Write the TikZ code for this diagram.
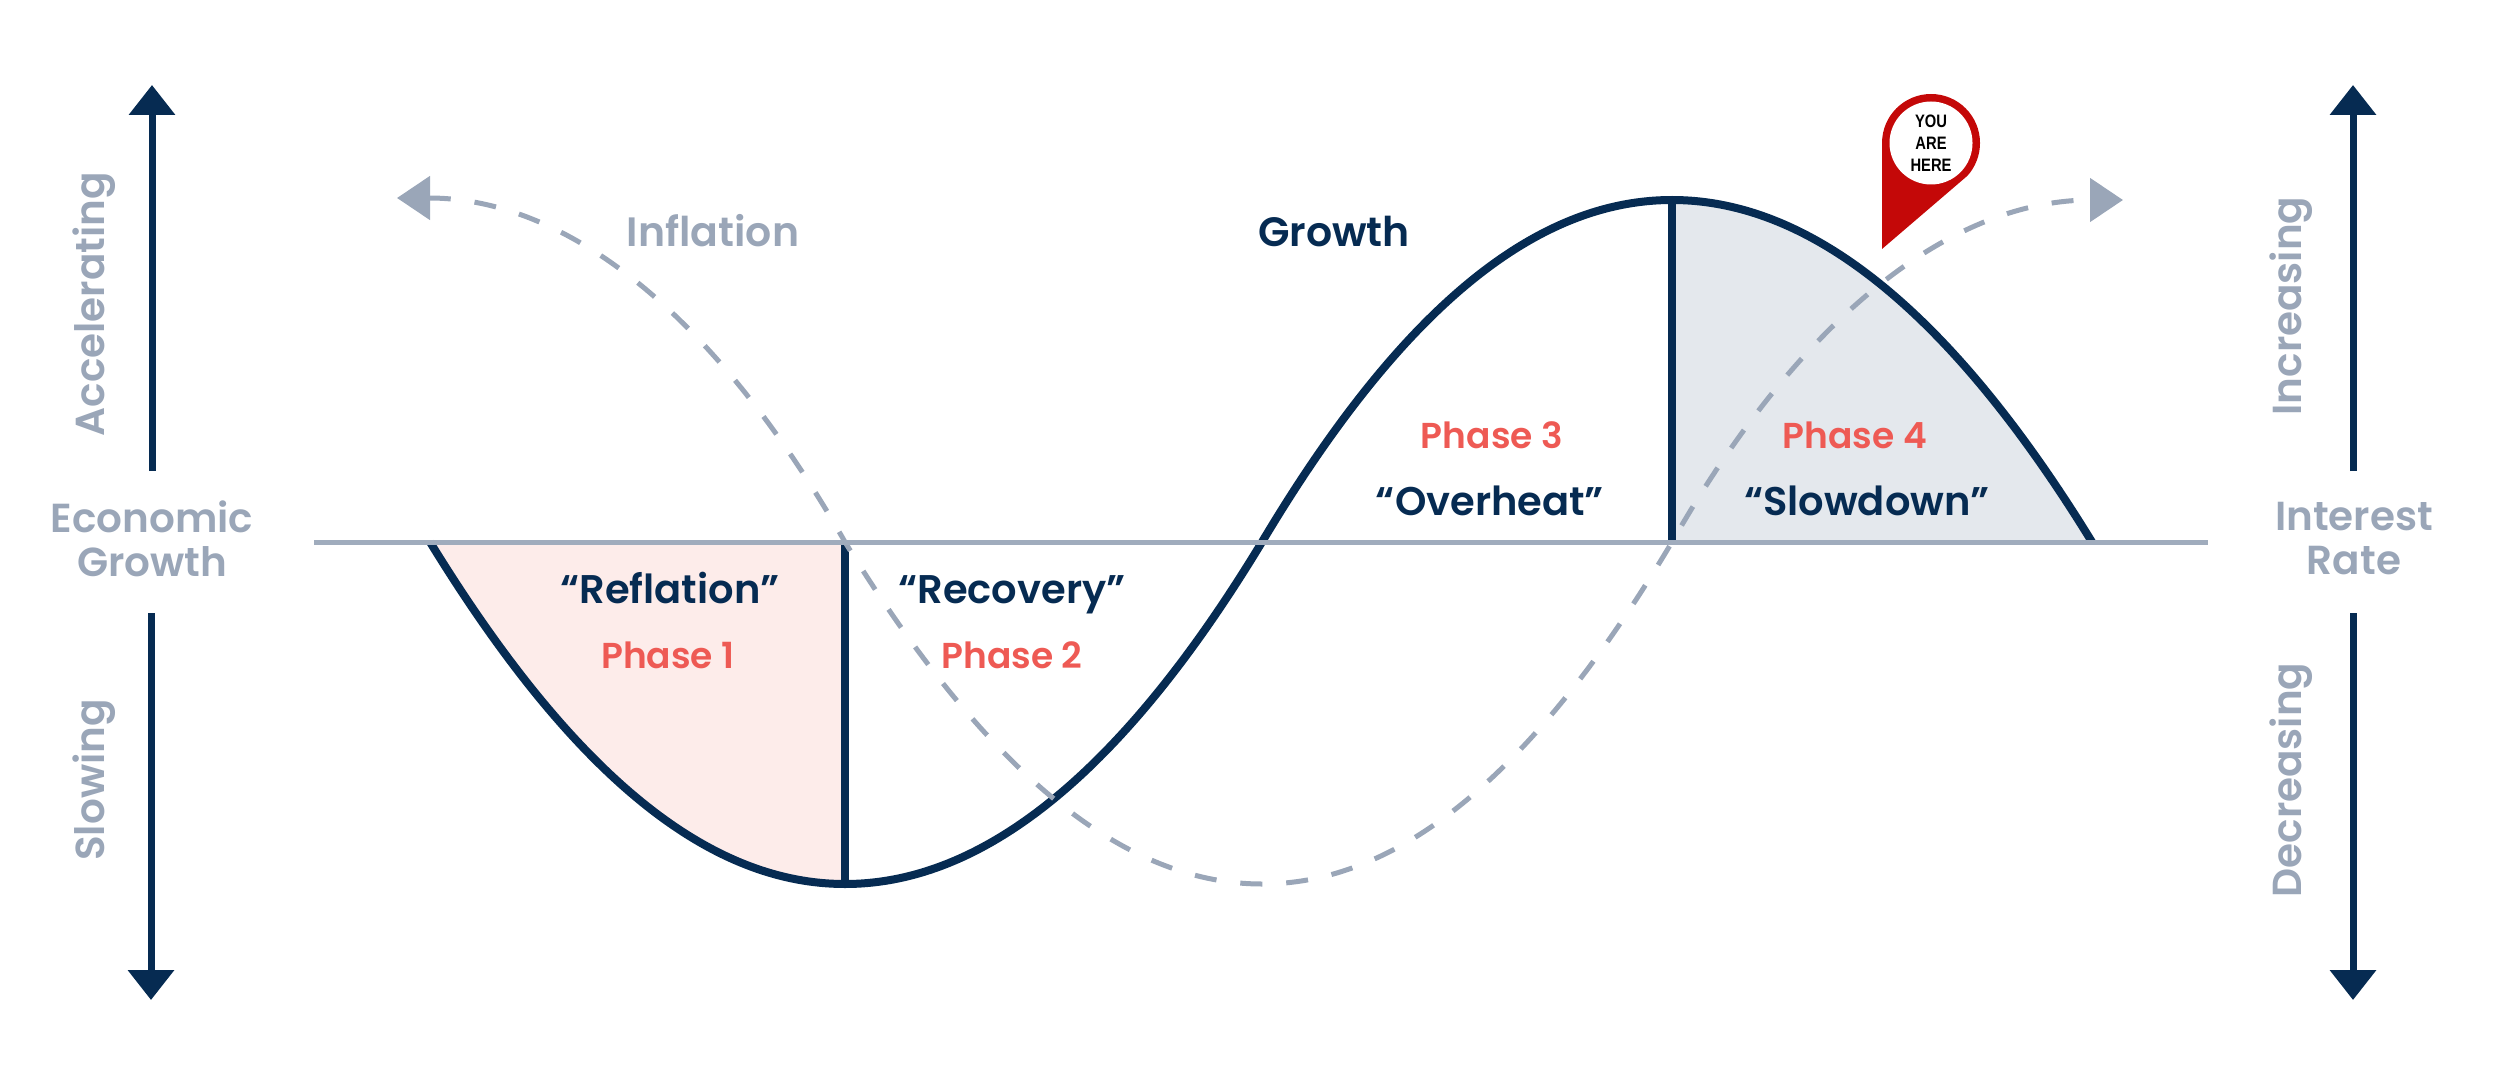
\documentclass[tikz,border=0pt]{standalone}
\usepackage{fontspec}
\setmainfont{Poppins}[BoldFont={Poppins SemiBold}]
\newfontfamily\pinfont[FakeStretch=0.82]{Liberation Sans}
\usepackage{xcolor}
\usetikzlibrary{arrows.meta,positioning,calc}
\definecolor{Navy}{HTML}{062B52}
\definecolor{Slate}{HTML}{9AA6B8}
\definecolor{AxisGray}{HTML}{A0ACBD}
\definecolor{Coral}{HTML}{EE5A54}
\definecolor{SoftRed}{HTML}{FDECEA}
\definecolor{SoftGray}{HTML}{E4E8ED}
\definecolor{PinRed}{HTML}{C40808}

\begin{document}
\begin{tikzpicture}[
    x=1pt,y=-1pt,
    phase/.style={anchor=base,text=Coral,font=\fontsize{36}{40}\selectfont\bfseries},
    nick/.style={anchor=base,text=Navy,font=\fontsize{40}{44}\selectfont\bfseries},
    curvename/.style={anchor=base,font=\fontsize{41}{46}\selectfont\bfseries},
    sidelabel/.style={text=Slate,align=center,font=\fontsize{40.5}{44}\selectfont\bfseries},
    vertlabel/.style={sidelabel,rotate=90},
    bigarrow/.style={draw=Navy,line width=7pt,-{Triangle[length=30pt,width=45pt]}},
    growthline/.style={draw=Navy,line width=8pt},
    inflationline/.style={draw=Slate,line width=5pt,dash pattern=on 22pt off 24pt},
]
\useasboundingbox (0,0) rectangle (2500,1075);

% curve points
\coordinate (g0) at (430,542);
\coordinate (g1) at (845,884);
\coordinate (g2) at (1262,542);
\coordinate (g3) at (1672,200);
\coordinate (g4) at (2092,542);
\coordinate (i0) at (397,198);
\coordinate (i1) at (845,542);
\coordinate (i2) at (1262,884);
\coordinate (i3) at (1672,542);
\coordinate (i4) at (2123,200);

% shaded phases
\fill[SoftRed] (g0) .. controls +(140,228) and +(-140,0) .. (g1) -- (i1) -- cycle;
\fill[SoftGray] (g3) .. controls +(140,0) and +(-140,-228) .. (g4) -- (i3) -- cycle;

% growth
\draw[growthline] (g0) .. controls +(140,228) and +(-140,0) .. (g1)
    .. controls +(140,0) and +(-138,228) .. (g2)
    .. controls +(136,-228) and +(-140,0) .. (g3)
    .. controls +(140,0) and +(-140,-228) .. (g4);
\draw[growthline] (i1) -- (g1);
\draw[growthline] (i3) -- (g3);

% inflation
\draw[inflationline,{Triangle[length=33pt,width=43pt]}-{Triangle[length=33pt,width=43pt]}]
    (i0) .. controls +(170,0) and +(-130,-228) .. (i1)
    .. controls +(140,228) and +(-140,0) .. (i2)
    .. controls +(140,0) and +(-136,228) .. (i3)
    .. controls +(130,-228) and +(-170,0) .. (i4);

% zero line
\coordinate (zl) at (314,542);
\coordinate (zr) at (2208,542);
\draw[AxisGray,line width=5pt] (zl) -- (zr);

% side arrows
\coordinate (la) at (152,471);
\coordinate (lb) at (152,85);
\coordinate (lc) at (151,613);
\coordinate (ld) at (151,1000);
\coordinate (ra) at (2353,471);
\coordinate (rb) at (2353,85);
\coordinate (rc) at (2353,613);
\coordinate (rd) at (2353,1000);
\draw[bigarrow] (la) -- (lb);
\draw[bigarrow] (lc) -- (ld);
\draw[bigarrow] (ra) -- (rb);
\draw[bigarrow] (rc) -- (rd);

\node[sidelabel] (econ) at (152,539) {Economic\\Growth};
\node[sidelabel] (rate) at (2354,539) {Interest\\Rate};
\node[vertlabel] (accel) at (94,304) {Accelerating};
\node[vertlabel] (slow) at (94,780) {Slowing};
\node[vertlabel] (incr) at (2291,306) {Increasing};
\node[vertlabel] (decr) at (2291,780) {Decreasing};

\node[curvename,text=Slate] (inflation) at (713,247) {Inflation};
\node[curvename,text=Navy] (growth) at (1334,247) {Growth};

\node[nick] (reflation) at (670,603) {“Reflation”};
\node[phase] (phaseA) at (668,668) {Phase 1};
\node[nick] (recovery) at (1012,603) {“Recovery”};
\node[phase] (phaseB) at (1012,668) {Phase 2};
\node[phase] (phaseC) at (1492,448) {Phase 3};
\node[nick] (overheat) at (1490,515) {“Overheat”};
\node[phase] (phaseD) at (1855,448) {Phase 4};
\node[nick] (slowdown) at (1867,515) {“Slowdown”};

% pin
\fill[PinRed] (1882,249) -- (1882,143) arc[start angle=180,end angle=402,radius=49] -- cycle;
\node[circle,fill=white,minimum size=83pt,inner sep=0pt,align=center,
    font=\pinfont\fontsize{18}{22}\selectfont\bfseries] (pin) at (1931,143) {YOU\\ARE\\HERE};
\end{tikzpicture}
\end{document}
